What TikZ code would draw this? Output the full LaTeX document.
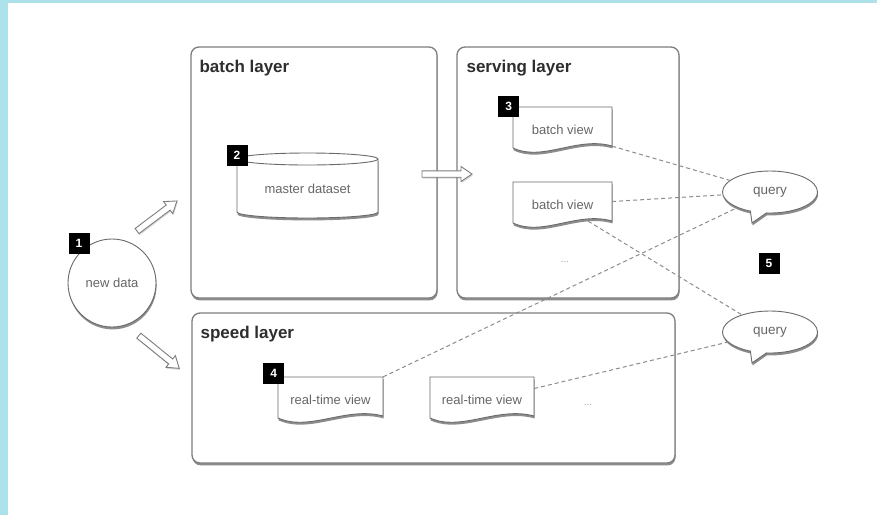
\documentclass[tikz,border=0pt]{standalone}
\usepackage{fontspec}
\setmainfont{Liberation Sans}
\usetikzlibrary{shapes.callouts,shadows,calc}

\definecolor{edgecyan}{HTML}{ADE2EB}
\definecolor{boxline}{HTML}{7D7D7D}
\definecolor{shapeline}{HTML}{6A6A6A}
\definecolor{labelgray}{HTML}{666666}
\definecolor{titlegray}{HTML}{2E2E2E}
\definecolor{linkgray}{HTML}{8C8C8C}

\tikzset{
  softshadow/.style={drop shadow={shadow xshift=0.6pt, shadow yshift=-2.4pt, opacity=0.45, fill=black}},
  layerbox/.style={draw=boxline, line width=1.3pt, fill=white, rounded corners=8pt, inner sep=0pt, softshadow},
  layertitle/.style={anchor=base west, inner sep=0pt, text=titlegray, font=\fontsize{17}{20}\selectfont\bfseries},
  docbody/.style={draw=shapeline, line width=0.9pt, fill=white, softshadow},
  doctext/.style={inner sep=0pt, minimum height=39pt, text height=16pt, text depth=0pt, text=labelgray, font=\fontsize{13}{15}\selectfont},
  badge/.style={fill=black, text=white, minimum size=21pt, inner sep=0pt, font=\fontsize{12}{13}\selectfont\bfseries},
  bubble/.style={ellipse callout, draw=shapeline, line width=0.9pt, fill=white, minimum width=95pt, minimum height=42pt, inner sep=0pt, callout pointer arc=20, text=labelgray, font=\fontsize{13.5}{15}\selectfont, softshadow},
  arrowbody/.style={draw=boxline, line width=0.9pt, fill=white, line join=miter, drop shadow={shadow xshift=0.8pt, shadow yshift=-1.5pt, opacity=0.3}},
  link/.style={draw=linkgray, line width=1pt, dash pattern=on 4pt off 3pt},
  moredots/.style={text=gray!70, font=\fontsize{10}{12}\selectfont},
}

% document shape with a wavy bottom edge: name, left, top, width, label
\newcommand\docshape[5]{%
  \path[docbody] (#2,#3) -- ({#2+#4},#3) -- ({#2+#4},{#3+39})
    .. controls ({#2+0.65*#4},{#3+29}) and ({#2+0.3*#4},{#3+55}) .. (#2,{#3+41}) -- cycle;
  \node[doctext, minimum width=#4pt] (#1) at ({#2+#4/2},{#3+19.5}) {#5};}

% hollow block arrow: centre, angle, length
\newcommand\blockarrow[3]{%
  \begin{scope}[shift={#1}, rotate=#2]
    \path[arrowbody] ({-#3/2},-3.2) -- ({#3/2-11},-3.2) -- ({#3/2-11},-7.5) -- ({#3/2},0)
      -- ({#3/2-11},7.5) -- ({#3/2-11},3.2) -- ({-#3/2},3.2) -- cycle;
  \end{scope}}

\begin{document}
\begin{tikzpicture}[x=1pt, y=-1pt]
  \useasboundingbox (0,0) rectangle (877,515);
  \fill[white] (0,0) rectangle (877,515);
  \fill[edgecyan] (0,0) rectangle (877,3);
  \fill[edgecyan] (0,0) rectangle (8,515);

  % the three layers
  \node[layerbox, minimum width=246pt, minimum height=251pt] (batch) at (314,172.5) {};
  \node[layerbox, minimum width=222pt, minimum height=251pt] (serving) at (568,172.5) {};
  \node[layerbox, minimum width=483pt, minimum height=150pt] (speed) at (433.5,388) {};
  \node[layertitle] at ([shift={(9,26)}]batch.north west) {batch layer};
  \node[layertitle] at ([shift={(10,26)}]serving.north west) {serving layer};
  \node[layertitle] at ([shift={(9,26)}]speed.north west) {speed layer};

  % master dataset cylinder
  \path[docbody] (237,159) -- (237,212)
    .. controls (237,215.3) and (268.6,218) .. (307.5,218)
    .. controls (346.4,218) and (378,215.3) .. (378,212) -- (378,159)
    .. controls (378,155.7) and (346.4,153) .. (307.5,153)
    .. controls (268.6,153) and (237,155.7) .. (237,159) -- cycle;
  \draw[shapeline, line width=0.9pt] (237,159)
    .. controls (237,162.3) and (268.6,165) .. (307.5,165)
    .. controls (346.4,165) and (378,162.3) .. (378,159);
  \node[doctext] (master) at (307.5,185) {master dataset};

  % views
  \docshape{bv1}{513}{107}{99}{batch view}
  \docshape{bv2}{513}{182}{99}{batch view}
  \docshape{rt1}{278}{377}{105}{real-time view}
  \docshape{rt2}{430}{377}{104}{real-time view}
  \node[moredots] at (565,262) {...};
  \node[moredots] at (588,405) {...};

  % queries
  \node[bubble, callout absolute pointer={(752,223)}] (q1) at (770,192) {query};
  \node[bubble, callout absolute pointer={(752,363)}] (q2) at (770,332) {query};

  % incoming data
  \node[circle, draw=shapeline, line width=0.9pt, fill=white, minimum size=88pt, inner sep=0pt,
        softshadow, text=labelgray, font=\fontsize{13}{15}\selectfont] (newdata) at (112,283) {new data};

  % hollow flow arrows
  \blockarrow{(157,216)}{37}{50}
  \blockarrow{(159,352)}{-39}{52}
  \coordinate (gap) at ($(batch.east)!0.5!(serving.west)+(0,1.5)$);
  \blockarrow{(gap)}{0}{50}

  % query links
  \draw[link] (bv1.south east) -- (q1);
  \draw[link] (bv2.east) -- (q1);
  \draw[link] ([xshift=-24pt]bv2.south east) -- (q2);
  \draw[link] (rt1.north east) -- (q1);
  \draw[link] ([yshift=8pt]rt2.east) -- (q2);

  % numbered badges
  \node[badge] (n1) at (79,243) {1};
  \node[badge] (n2) at (237,155) {2};
  \node[badge] (n3) at ([shift={(-4,0)}]bv1.north west) {3};
  \node[badge] (n4) at ([shift={(-4,-3)}]rt1.north west) {4};
  \node[badge] (n5) at (769,263) {5};
\end{tikzpicture}
\end{document}
